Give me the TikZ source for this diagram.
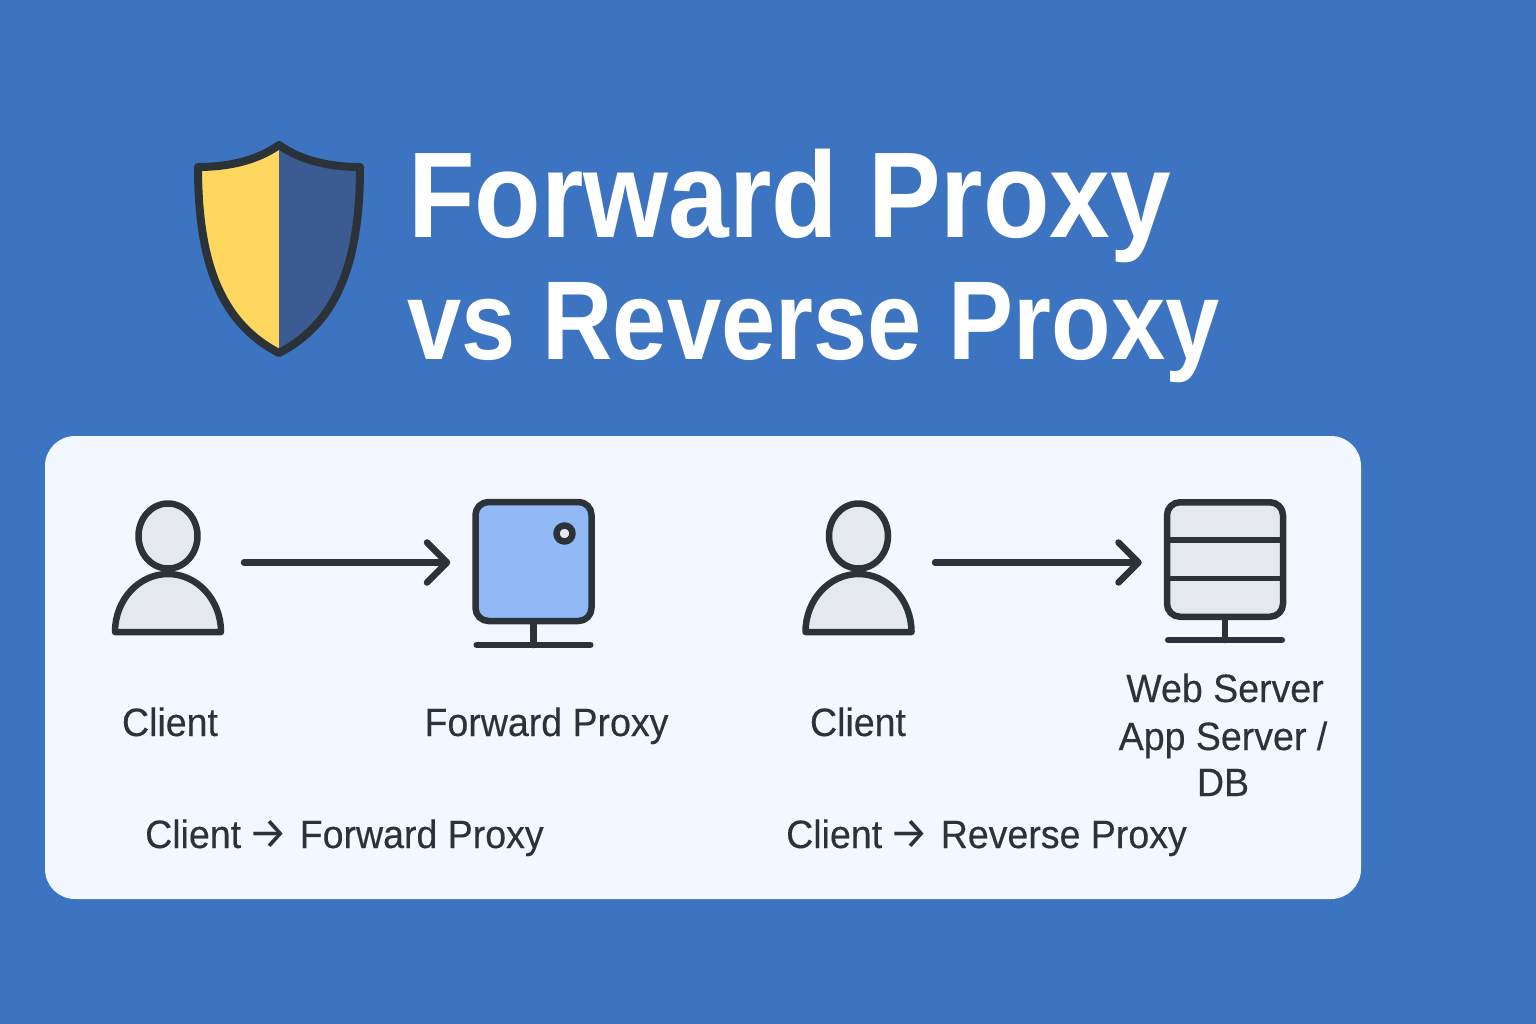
\documentclass[tikz,border=0pt]{standalone}
\usepackage{fontspec}
\setmainfont[FakeBold=0.3, FakeStretch=0.95]{Liberation Sans}
\newfontfamily\titlefont[FakeStretch=0.893]{Liberation Sans}
\newfontfamily\titlenarrow[FakeStretch=0.87]{Liberation Sans}
\newfontfamily\arrowfont{Fira Sans}
\usepackage{tikz}
\usetikzlibrary{positioning, arrows.meta, shapes.geometric}
\definecolor{bgblue}{HTML}{3C74C1}
\definecolor{panelwhite}{HTML}{F3F7FF}
\definecolor{inkdark}{HTML}{2B3238}
\definecolor{icongray}{HTML}{E5E9ED}
\definecolor{screenblue}{HTML}{91B9F6}
\definecolor{shieldyellow}{HTML}{FFD75F}
\definecolor{shieldblue}{HTML}{3B5B92}
\tikzset{
panel/.style={shape=rectangle, rounded corners=30pt, minimum width=1316pt, minimum height=463pt, fill=panelwhite, inner sep=0},
titletext/.style={anchor=base west, inner sep=0, text=white, font=\fontsize{122}{122}\selectfont\titlefont\bfseries},
titlesmall/.style={titletext, font=\fontsize{112}{112}\selectfont\titlenarrow\bfseries},
icontext/.style={anchor=base, inner sep=0, text=inkdark, align=center, font=\fontsize{39.5}{47}\selectfont},
captext/.style={icontext, anchor=base west},
iconline/.style={draw=inkdark, line width=6.5pt, line cap=round, line join=round},
monitorbox/.style={iconline, shape=rectangle, rounded corners=13pt, minimum width=116pt, minimum height=119pt, inner sep=0},
led/.style={iconline, shape=circle, minimum size=16pt, inner sep=0, fill=icongray},
flow/.style={iconline, -{Straight Barb[length=20pt, width=40pt, round]}, shorten >=22pt},
client/.pic={
 \node [iconline, shape=ellipse, minimum width=59pt, minimum height=65pt, inner sep=0, fill=icongray] (-head) at (0,-30) {};
 \draw [iconline, fill=icongray] (-53,66) arc[start angle=180, end angle=360, x radius=53, y radius=58] -- cycle;
}}
\begin{document}
\begin{tikzpicture}[x=1pt, y=-1pt]
\useasboundingbox (0,0) rectangle (1536,1024);
\fill [bgblue] (0,0) rectangle (1536,1024);
% shield
\fill [shieldyellow] (279,145) .. controls (255,162) and (225,167) .. (198,167) .. controls (198,270) and (225,325) .. (279,353) -- cycle;
\fill [shieldblue] (279,145) .. controls (303,162) and (333,167) .. (360,167) .. controls (360,270) and (333,325) .. (279,353) -- cycle;
\draw [iconline, line width=8pt] (279,145) .. controls (255,162) and (225,167) .. (198,167) .. controls (198,270) and (225,325) .. (279,353) .. controls (333,325) and (360,270) .. (360,167) .. controls (333,167) and (303,162) .. (279,145) -- cycle;
\node [titletext] (line1) at (408,238) {Forward Proxy};
\node [titlesmall] (line2) at (407,359) {vs Reverse Proxy};
\node [panel] (card) at (703,667.5) {};
% left pair
\pic (clientA) at (168,566) {client};
\node [monitorbox, fill=screenblue] (fbox) at (533.5,561.5) {};
\node [led] (dot) at (564.5,533.5) {};
\coordinate (fstand) at (533.5,645);
\node [inner sep=0] (fbaseL) at (476,645) {};
\node [inner sep=0] (fbaseR) at (591,645) {};
\draw [iconline] (fbaseL) -- (fbaseR);
\draw [iconline] (fbox.south) -- (fstand);
\coordinate (fromA) at (244,562.5);
\draw [flow] (fromA) -- (fbox.west |- fromA);
% right pair
\pic (clientB) at (858.5,566) {client};
\node [monitorbox, fill=icongray, minimum height=114.5pt] (rack) at (1225,559.5) {};
\draw [iconline, line cap=butt] (1167,540) -- (1283,540);
\draw [iconline, line cap=butt, line width=5pt] (1167,578) -- (1283,578);
\coordinate (rstand) at (1225,640);
\node [inner sep=0] (rbaseL) at (1167.5,640) {};
\node [inner sep=0] (rbaseR) at (1282.5,640) {};
\draw [iconline] (rbaseL) -- (rbaseR);
\draw [iconline] (rack.south) -- (rstand);
\coordinate (fromB) at (935,562.5);
\draw [flow] (fromB) -- (rack.west |- fromB);
% labels
\node [icontext] (labA) at (170,736) {Client};
\node [icontext] (labF) at (546.5,736) {Forward Proxy};
\node [icontext] (labB) at (858,736) {Client};
\node [icontext] (labW1) at (1225,702) {Web Server};
\node [icontext] (labW2) at (1223,750) {App Server /};
\node [icontext] (labW3) at (1223,796) {DB};
\node [captext] (capA) at (145,848) {Client\hspace{7pt}{\arrowfont\fontsize{44}{44}\selectfont →}\hspace{12pt}Forward Proxy};
\node [captext] (capB) at (786,848) {Client\hspace{7pt}{\arrowfont\fontsize{44}{44}\selectfont →}\hspace{12pt}Reverse Proxy};
\end{tikzpicture}
\end{document}
